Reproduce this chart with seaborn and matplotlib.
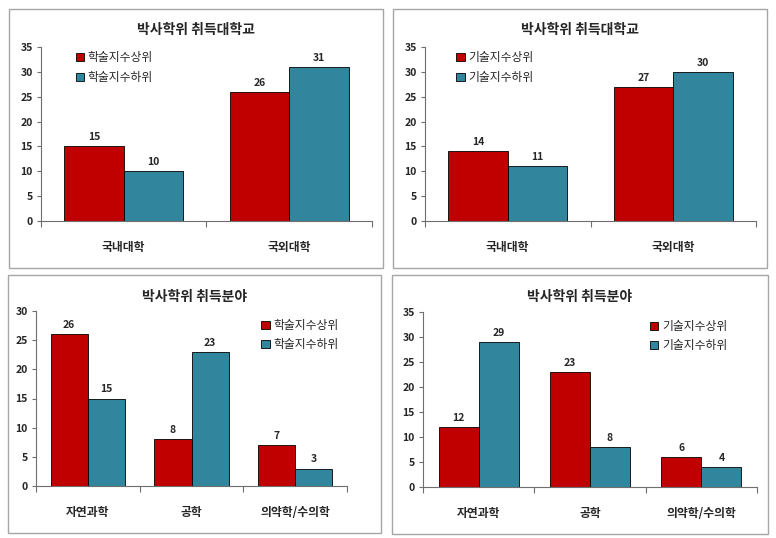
import matplotlib
matplotlib.use("Agg")
import matplotlib.pyplot as plt
import seaborn as sns
import pandas as pd
from matplotlib.patches import Rectangle

sns.set_style("white")
plt.rcParams['font.family'] = ['Noto Sans CJK KR', 'DejaVu Sans']

# ---- data ----
univ_categories = ["국내대학", "국외대학"]
field_categories = ["자연과학", "공학", "의약학/수의학"]

acad_series = ["학술지수상위", "학술지수하위"]
tech_series = ["기술지수상위", "기술지수하위"]

acad_univ_high = [15, 26]
acad_univ_low = [10, 31]
tech_univ_high = [14, 27]
tech_univ_low = [11, 30]

acad_field_high = [26, 8, 7]
acad_field_low = [15, 23, 3]
tech_field_high = [12, 23, 6]
tech_field_low = [29, 8, 4]

title_univ = "박사학위 취득대학교"
title_field = "박사학위 취득분야"

colors = ["#C00000", "#31859C"]

W, H = 776, 538
fig = plt.figure(figsize=(W / 100, H / 100), dpi=100)
fig.patch.set_facecolor("white")


def rect(l, r, top, bottom):
    return [l / W, 1 - bottom / H, (r - l) / W, (bottom - top) / H]


def make_df(cats, series, high, low):
    rows = []
    for c, v in zip(cats, high):
        rows.append({"cat": c, "series": series[0], "val": v})
    for c, v in zip(cats, low):
        rows.append({"cat": c, "series": series[1], "val": v})
    return pd.DataFrame(rows)


def panel(pos, box, title, title_xy, cats, series, high, low, ymax, ystep,
          leg_anchor):
    bx0, bx1, by0, by1 = box
    fig.add_artist(Rectangle((bx0 / W, 1 - by1 / H), (bx1 - bx0) / W, (by1 - by0) / H,
                             transform=fig.transFigure, fill=False,
                             edgecolor="#A6A6A6", linewidth=1.0))
    fig.text(title_xy[0] / W, 1 - title_xy[1] / H, title, ha="center", va="center",
             fontsize=10, fontweight="bold")
    ax = fig.add_axes(rect(*pos))
    df = make_df(cats, series, high, low)
    sns.barplot(data=df, x="cat", y="val", hue="series", palette=colors,
                width=0.72, edgecolor="black", linewidth=0.6, saturation=1,
                ax=ax, errorbar=None)
    for cont in ax.containers:
        ax.bar_label(cont, padding=3, fontsize=7.5, fontweight="bold")
    ax.set_ylim(0, ymax)
    ax.set_yticks(range(0, ymax + 1, ystep))
    ax.set_xlim(-0.5, len(cats) - 0.5)
    ax.set_xlabel("")
    ax.set_ylabel("")
    for s in ["top", "right"]:
        ax.spines[s].set_visible(False)
    for s in ["left", "bottom"]:
        ax.spines[s].set_color("#6E6E6E")
        ax.spines[s].set_linewidth(0.8)
    ax.tick_params(axis="y", left=True, length=3, width=0.8, color="#6E6E6E",
                   labelsize=7.5, pad=3)
    ax.tick_params(axis="x", which="major", bottom=False, labelsize=8.5, pad=11)
    ax.set_xticks([i - 0.5 for i in range(len(cats) + 1)], minor=True)
    ax.tick_params(axis="x", which="minor", bottom=True, length=4, width=0.8,
                   color="#6E6E6E")
    for lab in ax.get_xticklabels() + ax.get_yticklabels():
        lab.set_fontweight("bold")
    handles, labels = ax.get_legend_handles_labels()
    ax.legend(handles, labels, loc="upper left", bbox_to_anchor=leg_anchor,
              frameon=False, fontsize=8.5, handlelength=0.7, handleheight=0.7,
              handletextpad=0.3, labelspacing=0.55, borderaxespad=0, borderpad=0)
    return ax


panel((41, 372, 47, 221), (9, 383, 9, 268), title_univ, (196, 30),
      univ_categories, acad_series, acad_univ_high, acad_univ_low, 35, 5,
      (0.105, 0.975))
panel((425, 756, 47, 221), (393, 767, 9, 268), title_univ, (580, 30),
      univ_categories, tech_series, tech_univ_high, tech_univ_low, 35, 5,
      (0.095, 0.975))
panel((36, 347, 311, 486), (8, 381, 275, 533), title_field, (195, 297),
      field_categories, acad_series, acad_field_high, acad_field_low, 30, 5,
      (0.725, 0.955))
panel((423, 757, 312, 487), (392, 768, 275, 534), title_field, (580, 297),
      field_categories, tech_series, tech_field_high, tech_field_low, 35, 5,
      (0.68, 0.955))

fig.savefig("out.png", dpi=100, facecolor="white")
